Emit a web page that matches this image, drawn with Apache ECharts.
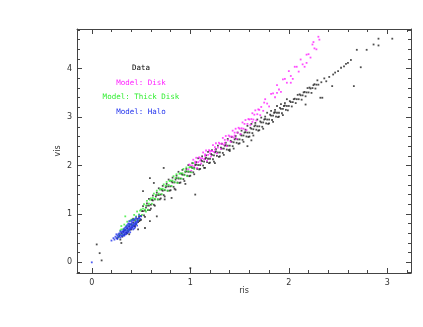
<!DOCTYPE html>
<html>
<head>
<meta charset="utf-8">
<script src="https://cdn.jsdelivr.net/npm/echarts@6/dist/echarts.min.js"></script>
<style>html,body{margin:0;padding:0;background:#fff}#c{width:423px;height:327px}</style>
</head>
<body>
<div id="c"></div>
<script>
// ---- data (x = r-i, y = v-i) ----
const xName = 'ris';
const yName = 'vis';
const xMajorTicks = [0, 1, 2, 3];
const yMajorTicks = [0, 1, 2, 3, 4];
const xMinorTicks = [0.2,0.4,0.6,0.8,1.2,1.4,1.6,1.8,2.2,2.4,2.6,2.8,3.2];
const yMinorTicks = [-0.2,0.2,0.4,0.6,0.8,1.2,1.4,1.6,1.8,2.2,2.4,2.6,2.8,3.2,3.4,3.6,3.8,4.2,4.4,4.6,4.8];
const legendLabels = ['Data', 'Model: Disk', 'Model: Thick Disk', 'Model: Halo'];

const dataPoints = [
[0.26,0.50],[0.28,0.55],[0.29,0.47],[0.30,0.60],[0.31,0.53],[0.32,0.63],[0.33,0.57],[0.34,0.67],[0.35,0.61],[0.36,0.70],[0.37,0.64],[0.38,0.74],[0.39,0.68],[0.40,0.78],[0.41,0.72],[0.42,0.82],[0.43,0.75],[0.44,0.86],[0.45,0.79],[0.46,0.90],[0.47,0.83],[0.48,0.94],[0.49,0.87],[0.36,0.60],[0.40,0.68],[0.44,0.75],[0.48,0.85],[0.33,0.66],[0.42,0.90],[0.38,0.58],
[0.50,0.96],[0.51,1.06],[0.50,0.88],[0.52,1.06],[0.53,0.97],[0.52,1.16],[0.54,1.07],[0.55,1.13],[0.54,0.94],[0.56,1.17],[0.57,1.08],[0.56,1.22],[0.58,1.17],[0.59,1.08],[0.58,1.31],
[0.60,1.19],[0.61,1.29],[0.60,1.11],[0.62,1.28],[0.63,1.19],[0.62,1.38],[0.64,1.30],[0.65,1.36],[0.64,1.17],[0.66,1.39],[0.67,1.30],[0.66,1.44],[0.68,1.39],[0.69,1.30],[0.68,1.53],
[0.70,1.40],[0.71,1.50],[0.70,1.32],[0.72,1.48],[0.73,1.39],[0.72,1.58],[0.74,1.49],[0.75,1.55],[0.74,1.36],[0.76,1.57],[0.77,1.48],[0.76,1.62],[0.78,1.57],[0.79,1.48],[0.78,1.71],
[0.80,1.57],[0.81,1.67],[0.80,1.49],[0.82,1.65],[0.83,1.56],[0.82,1.75],[0.84,1.65],[0.85,1.71],[0.84,1.52],[0.86,1.74],[0.87,1.65],[0.86,1.79],[0.88,1.73],[0.89,1.64],[0.88,1.87],
[0.90,1.73],[0.91,1.83],[0.90,1.65],[0.92,1.81],[0.93,1.72],[0.92,1.91],[0.94,1.81],[0.95,1.87],[0.94,1.68],[0.96,1.88],[0.97,1.79],[0.96,1.93],[0.98,1.87],[0.99,1.78],[0.98,2.01],
[1.00,1.87],[1.01,1.97],[1.00,1.79],[1.02,1.95],[1.03,1.86],[1.02,2.05],[1.04,1.95],[1.05,2.01],[1.04,1.82],[1.06,2.02],[1.07,1.93],[1.06,2.07],[1.08,2.01],[1.09,1.92],[1.08,2.15],
[1.10,2.01],[1.11,2.11],[1.10,1.93],[1.12,2.09],[1.13,2.00],[1.12,2.19],[1.14,2.08],[1.15,2.14],[1.14,1.95],[1.16,2.16],[1.17,2.07],[1.16,2.21],[1.18,2.14],[1.19,2.05],[1.18,2.28],
[1.20,2.14],[1.21,2.24],[1.20,2.06],[1.22,2.22],[1.23,2.13],[1.22,2.32],[1.24,2.21],[1.25,2.27],[1.24,2.08],[1.26,2.29],[1.27,2.20],[1.26,2.34],[1.28,2.27],[1.29,2.18],[1.28,2.41],
[1.30,2.27],[1.31,2.37],[1.30,2.19],[1.32,2.35],[1.33,2.26],[1.32,2.45],[1.34,2.35],[1.35,2.41],[1.34,2.22],[1.36,2.42],[1.37,2.33],[1.36,2.47],[1.38,2.41],[1.39,2.32],[1.38,2.55],
[1.40,2.41],[1.41,2.51],[1.40,2.33],[1.42,2.49],[1.43,2.40],[1.42,2.59],[1.44,2.48],[1.45,2.54],[1.44,2.35],[1.46,2.56],[1.47,2.47],[1.46,2.61],[1.48,2.54],[1.49,2.45],[1.48,2.68],
[1.50,2.54],[1.51,2.64],[1.50,2.46],[1.52,2.62],[1.53,2.53],[1.52,2.72],[1.54,2.62],[1.55,2.68],[1.54,2.49],[1.56,2.69],[1.57,2.60],[1.56,2.74],[1.58,2.68],[1.59,2.59],[1.58,2.82],
[1.60,2.68],[1.61,2.78],[1.60,2.60],[1.62,2.76],[1.63,2.67],[1.62,2.86],[1.64,2.75],[1.65,2.81],[1.64,2.62],[1.66,2.83],[1.67,2.74],[1.66,2.88],[1.68,2.81],[1.69,2.72],[1.68,2.95],
[1.70,2.81],[1.71,2.91],[1.70,2.73],[1.72,2.89],[1.73,2.80],[1.72,2.99],[1.74,2.89],[1.75,2.95],[1.74,2.76],[1.76,2.96],[1.77,2.87],[1.76,3.01],[1.78,2.95],[1.79,2.86],[1.78,3.09],
[1.80,2.95],[1.81,3.05],[1.80,2.87],[1.82,3.03],[1.83,2.94],[1.82,3.13],[1.84,3.03],[1.85,3.09],[1.84,2.90],[1.86,3.10],[1.87,3.01],[1.86,3.15],[1.88,3.09],[1.89,3.00],[1.88,3.23],
[1.90,3.09],[1.91,3.19],[1.90,3.01],[1.92,3.17],[1.93,3.08],[1.92,3.27],[1.94,3.17],[1.95,3.23],[1.94,3.04],[1.96,3.24],[1.97,3.15],[1.96,3.29],[1.98,3.23],[1.99,3.14],[1.98,3.37],
[2.00,3.23],[2.01,3.33],[2.02,3.31],[2.03,3.22],[2.04,3.31],[2.05,3.37],[2.06,3.38],[2.07,3.29],[2.08,3.37],[2.09,3.46],
[2.10,3.37],[2.11,3.47],[2.12,3.45],[2.13,3.36],[2.14,3.45],[2.15,3.51],[2.16,3.52],[2.17,3.43],[2.18,3.51],[2.19,3.60],
[2.20,3.51],[2.21,3.61],[2.22,3.59],[2.23,3.50],[2.24,3.60],[2.25,3.66],[2.26,3.68],[2.27,3.59],[2.28,3.67],[2.29,3.76],[2.30,3.67],
[2.36,3.80],[2.38,3.74],[2.41,3.83],[2.44,3.64],[2.45,3.88],[2.47,3.92],[2.50,3.95],[2.53,4.02],[2.56,4.05],[2.58,4.10],[2.60,4.12],[2.63,4.18],[2.66,3.64],[2.69,4.39],[2.73,4.03],[2.79,4.39],[2.86,4.50],[2.91,4.48],[2.91,4.62],[3.05,4.62],[2.34,3.40],[2.17,3.26],[2.32,3.40],[2.33,3.72],
[1.58,2.40],[1.40,2.30],[1.25,2.05],[1.62,2.52],[1.05,1.40],[0.81,1.33],[0.74,1.30],[0.73,1.95],[0.59,1.74],[0.63,1.64],[0.52,1.47],[0.66,0.95],[0.59,0.85],[0.54,0.71],[0.47,0.68],[0.30,0.40],[0.05,0.37],[0.08,0.19],[0.10,0.04],[1.00,-0.12],[0.85,1.50],[0.95,1.62],[1.15,1.95]
];

const diskPoints = [
[0.98,1.92],[0.99,2.02],[1.00,2.00],[1.01,1.89],[1.02,2.00],[1.03,2.12],[1.04,1.98],[1.05,2.08],[1.06,2.16],[1.07,1.95],[1.08,2.07],[1.09,2.17],
[1.10,2.15],[1.11,2.04],[1.12,2.15],[1.13,2.27],[1.14,2.13],[1.15,2.23],[1.16,2.31],[1.17,2.10],[1.18,2.22],[1.19,2.32],
[1.20,2.30],[1.21,2.19],[1.22,2.30],[1.23,2.42],[1.24,2.28],[1.25,2.38],[1.26,2.46],[1.27,2.25],[1.28,2.37],[1.29,2.47],
[1.30,2.45],[1.31,2.34],[1.32,2.45],[1.33,2.57],[1.34,2.43],[1.35,2.53],[1.36,2.61],[1.37,2.40],[1.38,2.52],[1.39,2.62],
[1.40,2.60],[1.41,2.49],[1.42,2.60],[1.43,2.72],[1.44,2.58],[1.45,2.68],[1.46,2.76],[1.47,2.55],[1.48,2.68],[1.49,2.78],
[1.50,2.76],[1.51,2.65],[1.52,2.77],[1.53,2.89],[1.54,2.76],[1.55,2.86],[1.56,2.94],[1.57,2.73],[1.58,2.86],[1.59,2.96],
[1.60,2.95],[1.61,2.84],[1.62,2.96],[1.63,3.08],[1.64,2.95],[1.65,3.05],[1.66,3.14],[1.67,2.93],[1.68,3.06],[1.69,3.16],
[1.70,3.15],[1.71,3.04],[1.72,3.21],[1.74,3.13],[1.76,3.37],[1.78,3.28],[1.80,3.22],[1.82,3.48],[1.84,3.49],[1.86,3.41],[1.88,3.66],
[1.90,3.57],[1.92,3.52],[1.94,3.78],[1.96,3.79],[1.98,3.71],[2.00,3.95],[2.02,3.85],[2.04,3.79],[2.06,4.04],[2.08,4.04],
[2.10,3.94],[2.12,4.19],[2.14,4.09],[2.16,4.04],[2.18,4.29],[2.20,4.30],[2.22,4.23],[2.24,4.50],[2.26,4.42],[2.28,4.40],[2.30,4.66],
[2.31,4.60],[2.25,4.55],[2.18,4.12],[2.02,3.71],[1.88,3.50],[1.75,3.30],[1.63,2.90],[1.45,2.62],[1.35,2.47],[1.25,2.33],[1.15,2.20],[1.05,2.05],[1.10,2.10],[1.20,2.25]
];

const thickDiskPoints = [
[0.28,0.58],[0.29,0.66],[0.30,0.68],[0.31,0.57],[0.32,0.69],[0.33,0.78],[0.34,0.67],[0.35,0.75],[0.36,0.84],[0.37,0.66],[0.38,0.78],[0.39,0.86],
[0.40,0.88],[0.41,0.77],[0.42,0.89],[0.43,0.98],[0.44,0.87],[0.45,0.95],[0.46,1.05],[0.47,0.87],[0.48,0.99],[0.49,1.07],
[0.50,1.09],[0.51,0.98],[0.52,1.11],[0.53,1.20],[0.54,1.09],[0.55,1.17],[0.56,1.27],[0.57,1.09],[0.58,1.21],[0.59,1.29],
[0.60,1.32],[0.61,1.21],[0.62,1.33],[0.63,1.42],[0.64,1.31],[0.65,1.39],[0.66,1.48],[0.67,1.30],[0.68,1.42],[0.69,1.50],
[0.70,1.52],[0.71,1.41],[0.72,1.52],[0.73,1.61],[0.74,1.50],[0.75,1.58],[0.76,1.66],[0.77,1.48],[0.78,1.60],[0.79,1.68],
[0.80,1.69],[0.81,1.58],[0.82,1.69],[0.83,1.78],[0.84,1.66],[0.85,1.74],[0.86,1.82],[0.87,1.64],[0.88,1.75],[0.89,1.83],
[0.90,1.84],[0.91,1.73],[0.92,1.84],[0.93,1.93],[0.94,1.80],[0.95,1.88],[0.96,1.96],[0.97,1.78],[0.98,1.88],[0.99,1.96],
[1.00,1.97],[1.01,1.86],[1.02,1.96],[1.03,2.05],[1.04,1.93],
[0.34,0.95],[0.30,0.75],[0.45,0.80],[0.55,1.05],[0.27,0.52]
];

const haloPoints = [
[0.22,0.50],[0.23,0.47],[0.24,0.53],[0.25,0.50],[0.26,0.55],[0.26,0.48],[0.27,0.52],[0.27,0.58],[0.28,0.54],[0.28,0.60],[0.29,0.51],[0.29,0.57],
[0.30,0.62],[0.30,0.55],[0.31,0.59],[0.31,0.64],[0.32,0.56],[0.32,0.62],[0.32,0.67],[0.33,0.60],[0.33,0.65],[0.33,0.70],[0.34,0.62],[0.34,0.67],[0.34,0.58],
[0.35,0.64],[0.35,0.70],[0.35,0.74],[0.36,0.66],[0.36,0.61],[0.36,0.72],[0.37,0.68],[0.37,0.74],[0.37,0.63],[0.38,0.70],[0.38,0.76],[0.38,0.66],[0.38,0.80],
[0.39,0.72],[0.39,0.68],[0.39,0.78],[0.40,0.74],[0.40,0.70],[0.40,0.80],[0.40,0.85],[0.41,0.76],[0.41,0.72],[0.41,0.82],[0.42,0.78],[0.42,0.74],[0.42,0.86],
[0.43,0.80],[0.43,0.76],[0.43,0.88],[0.44,0.82],[0.44,0.78],[0.44,0.90],[0.45,0.84],[0.45,0.80],[0.45,0.93],[0.46,0.87],[0.46,0.82],[0.47,0.90],[0.47,0.85],
[0.48,0.92],[0.48,0.97],[0.49,0.90],[0.50,0.95],[0.36,0.77],[0.34,0.72],[0.42,0.68],[0.44,0.72],[0.31,0.54],[0.29,0.64],[0.37,0.80],[0.39,0.62],[0.35,0.58],
[0.41,0.88],[0.43,0.70],[0.46,0.76],[0.00,0.00],[0.20,0.45],[0.25,0.58],[0.38,0.85],[0.33,0.55]
];

// ---- chart ----
const XMIN = -0.15, XMAX = 3.24, YMIN = -0.22, YMAX = 4.82;
const AX = '#444';
const TICKFONT = 'DejaVu Sans';

function xAx(pos, ticks, len, showLine, labels) {
  return {
    type: 'value', position: pos, min: XMIN, max: XMAX, gridIndex: 0,
    splitLine: { show: false },
    axisLine: { show: showLine, onZero: false, lineStyle: { color: AX, width: 1 } },
    axisTick: { show: true, inside: true, length: len, customValues: ticks, lineStyle: { color: AX, width: 1 } },
    axisLabel: labels ? { show: true, customValues: ticks, fontSize: 8, color: '#333', fontFamily: TICKFONT, margin: 6 } : { show: false },
    name: labels ? xName : '', nameLocation: 'middle', nameGap: 14, nameMoveOverlap: false,
    nameTextStyle: { fontSize: 8, color: '#333', fontFamily: TICKFONT }
  };
}
function yAx(pos, ticks, len, showLine, labels) {
  return {
    type: 'value', position: pos, min: YMIN, max: YMAX, gridIndex: 0,
    splitLine: { show: false },
    axisLine: { show: showLine, onZero: false, lineStyle: { color: AX, width: 1 } },
    axisTick: { show: true, inside: true, length: len, customValues: ticks, lineStyle: { color: AX, width: 1 } },
    axisLabel: labels ? { show: true, customValues: ticks, fontSize: 8, color: '#333', fontFamily: TICKFONT, margin: 5 } : { show: false },
    name: labels ? yName : '', nameLocation: 'middle', nameGap: 15, nameRotate: 90, nameMoveOverlap: false,
    nameTextStyle: { fontSize: 8, color: '#333', fontFamily: TICKFONT }
  };
}

const legendColors = ['#000000', '#ff22ff', '#33ee33', '#2233ee'];
const legendY = [68, 83, 97, 112];

const option = {
  animation: false,
  backgroundColor: '#ffffff',
  grid: { left: 77, right: 12, top: 29, bottom: 54, containLabel: false, outerBoundsMode: 'none' },
  xAxis: [
    xAx('bottom', xMajorTicks, 5, true, true),
    xAx('bottom', xMinorTicks, 3, false, false),
    xAx('top', xMajorTicks, 5, true, false),
    xAx('top', xMinorTicks, 3, false, false)
  ],
  yAxis: [
    yAx('left', yMajorTicks, 5, true, true),
    yAx('left', yMinorTicks, 3, false, false),
    yAx('right', yMajorTicks, 5, true, false),
    yAx('right', yMinorTicks, 3, false, false)
  ],
  graphic: legendLabels.map((t, i) => ({
    type: 'text', x: 141, y: legendY[i], silent: true,
    style: { text: t, fill: legendColors[i], font: '7.5px "DejaVu Sans Mono"', textAlign: 'center', textVerticalAlign: 'middle', align: 'center', verticalAlign: 'middle' }
  })),
  series: [
    { name: 'Data', type: 'scatter', data: dataPoints, symbol: 'rect', symbolSize: 1.8, itemStyle: { color: '#222' }, xAxisIndex: 0, yAxisIndex: 0 },
    { name: 'Model: Disk', type: 'scatter', data: diskPoints, symbol: 'rect', symbolSize: 1.8, itemStyle: { color: '#ff22ff' }, xAxisIndex: 0, yAxisIndex: 0 },
    { name: 'Model: Thick Disk', type: 'scatter', data: thickDiskPoints, symbol: 'rect', symbolSize: 1.8, itemStyle: { color: '#33ee33' }, xAxisIndex: 0, yAxisIndex: 0 },
    { name: 'Model: Halo', type: 'scatter', data: haloPoints, symbol: 'rect', symbolSize: 1.8, itemStyle: { color: '#2233ee' }, xAxisIndex: 0, yAxisIndex: 0 }
  ]
};

const chart = echarts.init(document.getElementById('c'), null, { renderer: 'canvas' });
chart.setOption(option);
</script>
</body>
</html>
